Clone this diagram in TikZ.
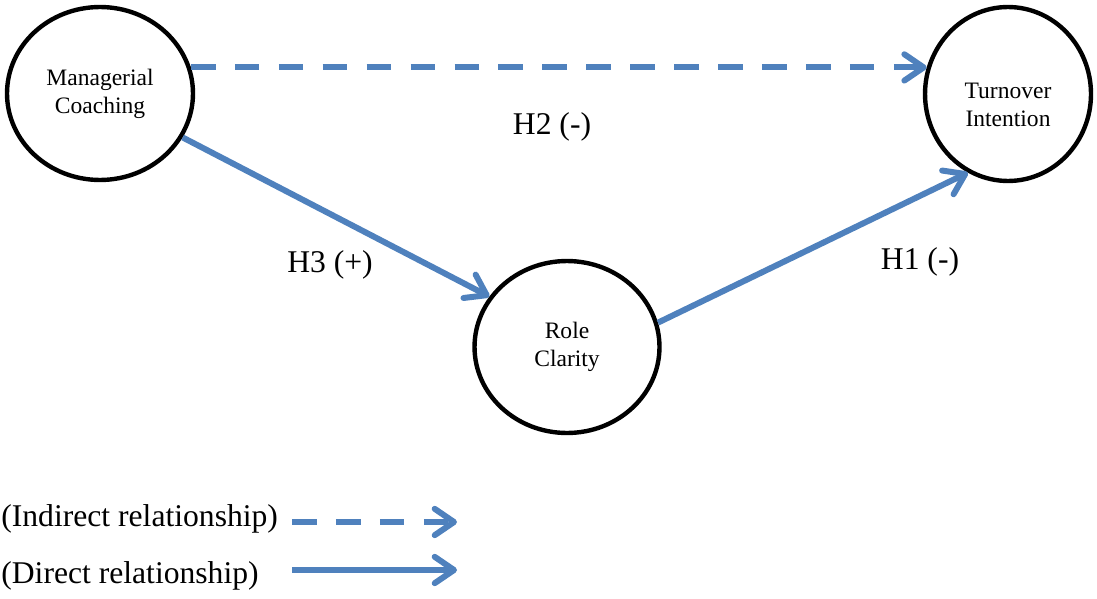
\documentclass[tikz,border=0pt]{standalone}
\usepackage{fontspec}
\setmainfont{Liberation Serif}
\usetikzlibrary{arrows.meta,shapes.geometric,positioning}
\definecolor{linkblue}{HTML}{4F81BD}

\begin{document}
\begin{tikzpicture}[x=0.02cm, y=-0.02cm, >={Straight Barb[round,length=11pt,width=15pt]},
  construct/.style={draw, ellipse, line width=2.5pt, inner sep=0pt, align=center, font=\fontsize{13.4}{16}\selectfont},
  hyp/.style={font=\fontsize{18}{20}\selectfont},
  direct/.style={->, draw=linkblue, line width=3.4pt},
  indirect/.style={direct, dash pattern=on 14pt off 11pt}]
  \useasboundingbox (0,0) rectangle (1097,598);
  % constructs
  \node[construct, minimum width=3.72cm, minimum height=3.46cm] (mc) at (100,93.5) {Managerial\\Coaching};
  \node[construct, minimum width=3.32cm, minimum height=3.48cm] (ti) at (1008,94) {};
  \node[align=center, font=\fontsize{13.4}{16}\selectfont] (titxt) at ([yshift=-0.22cm]ti.center) {Turnover\\Intention};
  \node[construct, minimum width=3.7cm, minimum height=3.44cm] (rc) at (567,347) {Role\\Clarity};
  % hypotheses
  \draw[indirect] (mc.16) -- (mc.16 -| ti.162);
  \draw[direct] (mc.-28) -- (rc.147);
  \draw[direct] (rc.15) -- (ti.-117);
  \node[hyp] (h2) at (552,127) {H2 (-)};
  \node[hyp] (h3) at (330,265) {H3 (+)};
  \node[hyp] (h1) at (920,262) {H1 (-)};
  % legend
  \node[hyp, anchor=base west, inner sep=0pt] (lind) at (1,526) {(Indirect relationship)};
  \node[hyp, anchor=base west, inner sep=0pt] (ldir) at (1,583) {(Direct relationship)};
  \coordinate (ia) at (292,522); \coordinate (ib) at (457,522);
  \coordinate (da) at (292,570); \coordinate (db) at (457,570);
  \draw[indirect] (ia) -- (ib);
  \draw[direct] (da) -- (db);
\end{tikzpicture}
\end{document}
